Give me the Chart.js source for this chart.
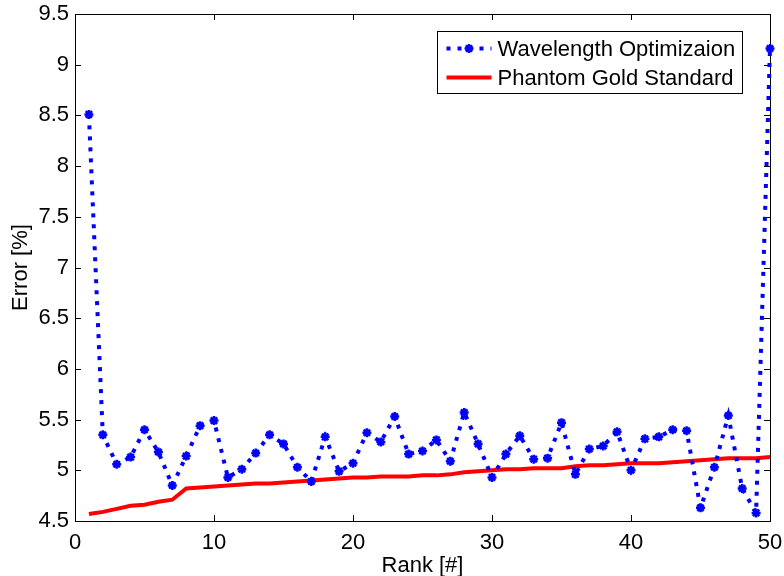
<!DOCTYPE html>
<html>
<head>
<meta charset="utf-8">
<script src="https://cdn.jsdelivr.net/npm/chart.js@4.4.1/dist/chart.umd.min.js"></script>
<style>
  html, body { margin: 0; padding: 0; background: #fff; }
  #wrap { width: 784px; height: 576px; position: relative; }
</style>
</head>
<body>
<div id="wrap"><canvas id="c"></canvas></div>
<script>
// Error per rank for both methods
const ranks = [1,2,3,4,5,6,7,8,9,10,11,12,13,14,15,16,17,18,19,20,21,22,23,24,25,
               26,27,28,29,30,31,32,33,34,35,36,37,38,39,40,41,42,43,44,45,46,47,48,49,50];
const wavelengthError = [8.51,5.35,5.06,5.13,5.40,5.18,4.85,5.14,5.44,5.49,
                         4.93,5.01,5.17,5.35,5.26,5.03,4.89,5.33,4.99,5.07,
                         5.37,5.28,5.53,5.16,5.19,5.30,5.09,5.57,5.26,4.93,
                         5.16,5.34,5.11,5.12,5.47,4.96,5.21,5.24,5.38,5.00,
                         5.31,5.33,5.40,5.39,4.63,5.03,5.54,4.82,4.58,9.16];
const goldStandardError = [4.57,4.59,4.62,4.65,4.66,4.69,4.71,4.82,4.83,4.84,
                           4.85,4.86,4.87,4.87,4.88,4.89,4.90,4.91,4.92,4.93,
                           4.93,4.94,4.94,4.94,4.95,4.95,4.96,4.98,4.99,5.00,
                           5.01,5.01,5.02,5.02,5.02,5.04,5.05,5.05,5.06,5.07,
                           5.07,5.07,5.08,5.09,5.10,5.11,5.12,5.12,5.12,5.13];
const seriesNames = ['Wavelength Optimizaion', 'Phantom Gold Standard'];
const xTickValues = [0, 10, 20, 30, 40, 50];
const yTickValues = [4.5, 5, 5.5, 6, 6.5, 7, 7.5, 8, 8.5, 9, 9.5];
const xTitle = 'Rank [#]';
const yTitle = 'Error [%]';

const FONT = "'Liberation Sans', Arial, Helvetica, sans-serif";
const BLUE = '#0000ff';
const RED = '#ff0000';

// Axes box with inward tick marks on all four sides
const boxPlugin = {
  id: 'boxAxes',
  beforeDatasetsDraw(chart) {
    const { ctx, chartArea: a, scales: { x, y } } = chart;
    const len = 6;
    ctx.save();
    ctx.strokeStyle = '#000';
    ctx.lineWidth = 1;
    ctx.beginPath();
    xTickValues.forEach(v => {
      const px = Math.round(x.getPixelForValue(v)) + 0.5;
      ctx.moveTo(px, a.bottom); ctx.lineTo(px, a.bottom - len);
      ctx.moveTo(px, a.top); ctx.lineTo(px, a.top + len);
    });
    yTickValues.forEach(v => {
      const py = Math.round(y.getPixelForValue(v)) + 0.5;
      ctx.moveTo(a.left, py); ctx.lineTo(a.left + len, py);
      ctx.moveTo(a.right, py); ctx.lineTo(a.right - len, py);
    });
    ctx.stroke();
    ctx.strokeRect(Math.round(a.left) + 0.5, Math.round(a.top) + 0.5,
                   Math.round(a.right - a.left), Math.round(a.bottom - a.top));
    ctx.restore();
  }
};

// Boxed legend in the upper-right corner of the plot
const legendPlugin = {
  id: 'boxLegend',
  afterDatasetsDraw(chart) {
    const { ctx, chartArea: a } = chart;
    const w = 305, h = 62;
    const bx = Math.round(a.right - 28 - w) + 0.5;
    const by = Math.round(a.top + 17) + 0.5;
    ctx.save();
    ctx.fillStyle = '#fff';
    ctx.fillRect(bx, by, w, h);
    ctx.strokeStyle = '#000';
    ctx.lineWidth = 1;
    ctx.strokeRect(bx, by, w, h);

    const x0 = bx + 9, x1 = bx + 54;
    const rows = [by + 17, by + 46];
    chart.data.datasets.forEach((ds, i) => {
      const ly = rows[i];
      ctx.save();
      ctx.strokeStyle = ds.borderColor;
      ctx.lineWidth = ds.borderWidth;
      ctx.setLineDash(ds.borderDash || []);
      ctx.beginPath();
      ctx.moveTo(x0, ly); ctx.lineTo(x1, ly);
      ctx.stroke();
      ctx.restore();
      if (ds.pointStyle && ds.pointRadius > 0) {
        ctx.save();
        ctx.strokeStyle = ds.pointBorderColor;
        ctx.fillStyle = ds.pointBackgroundColor;
        ctx.lineWidth = ds.pointBorderWidth;
        Chart.helpers.drawPoint(ctx, {
          pointStyle: ds.pointStyle,
          radius: ds.pointRadius,
          borderWidth: ds.pointBorderWidth,
          rotation: 0
        }, (x0 + x1) / 2, ly);
        ctx.restore();
      }
      ctx.fillStyle = '#000';
      ctx.font = '22px ' + FONT;
      ctx.textBaseline = 'middle';
      ctx.textAlign = 'left';
      ctx.fillText(ds.label, x1 + 6, ly + 1);
    });
    ctx.restore();
  }
};

const fmt = v => String(v);

new Chart(document.getElementById('c'), {
  type: 'line',
  data: {
    datasets: [
      {
        label: seriesNames[0],
        data: ranks.map((r, i) => ({ x: r, y: wavelengthError[i] })),
        borderColor: BLUE,
        backgroundColor: BLUE,
        borderWidth: 4,
        borderDash: [4, 7],
        borderCapStyle: 'butt',
        pointStyle: 'star',
        pointRadius: 4.5,
        pointBorderWidth: 2.5,
        pointBorderColor: BLUE,
        pointBackgroundColor: BLUE,
        tension: 0,
        clip: false
      },
      {
        label: seriesNames[1],
        data: ranks.map((r, i) => ({ x: r, y: goldStandardError[i] })),
        borderColor: RED,
        backgroundColor: RED,
        borderWidth: 4,
        pointRadius: 0,
        tension: 0,
        clip: false
      }
    ]
  },
  options: {
    responsive: true,
    maintainAspectRatio: false,
    animation: false,
    devicePixelRatio: 1,
    layout: { padding: { top: 14, right: 14, left: 0, bottom: 0 } },
    plugins: {
      legend: { display: false },
      tooltip: { enabled: false }
    },
    scales: {
      x: {
        type: 'linear',
        min: 0, max: 50,
        afterBuildTicks: s => { s.ticks = xTickValues.map(v => ({ value: v })); },
        afterFit: s => { s.height = 55; s.paddingLeft = 0; s.paddingRight = 0; },
        grid: { display: false, drawTicks: false },
        border: { display: false },
        ticks: {
          callback: fmt,
          color: '#000',
          padding: 9,
          maxRotation: 0,
          font: { family: FONT, size: 22 }
        },
        title: {
          display: true, text: xTitle, color: '#000',
          padding: { top: 0, bottom: -3 },
          font: { family: FONT, size: 22 }
        }
      },
      y: {
        type: 'linear',
        min: 4.5, max: 9.5,
        afterBuildTicks: s => { s.ticks = yTickValues.map(v => ({ value: v })); },
        afterFit: s => { s.width = 75; s.paddingTop = 0; s.paddingBottom = 0; },
        grid: { display: false, drawTicks: false },
        border: { display: false },
        ticks: {
          callback: fmt,
          color: '#000',
          padding: 6,
          font: { family: FONT, size: 22 }
        },
        title: {
          display: true, text: yTitle, color: '#000',
          padding: { top: 8, bottom: 0 },
          font: { family: FONT, size: 22 }
        }
      }
    }
  },
  plugins: [boxPlugin, legendPlugin]
});
</script>
</body>
</html>
